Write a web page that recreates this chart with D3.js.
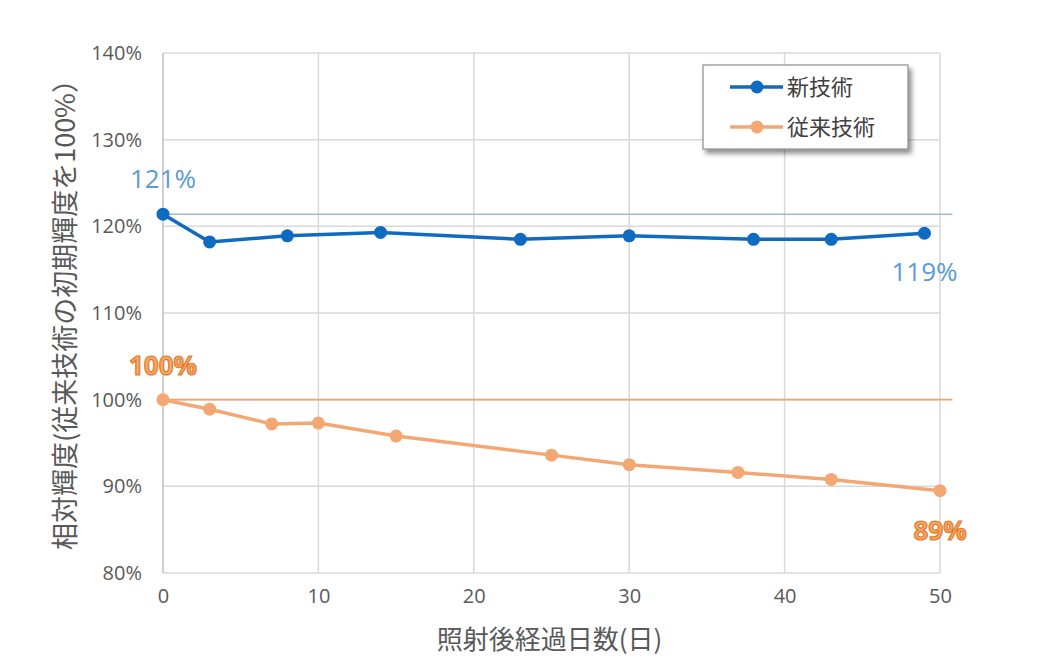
<!DOCTYPE html>
<html>
<head>
<meta charset="utf-8">
<script src="https://cdn.jsdelivr.net/npm/d3@7"></script>
<style>
  body { margin: 0; background: #fff; }
  text { font-family: "Open Sans", "Noto Sans CJK JP", sans-serif; }
  .jp { font-family: "Noto Sans CJK JP", sans-serif; }
</style>
</head>
<body>
<div id="app"></div>
<script>
const width = 1057,
    height = 659;

// days after irradiation
const newDays = [0, 3, 8, 14, 23, 30, 38, 43, 49];
const newValues = [121.4, 118.2, 118.9, 119.3, 118.5, 118.9, 118.5, 118.5, 119.2];
const oldDays = [0, 3, 7, 10, 15, 25, 30, 37, 43, 50];
const oldValues = [100.0, 98.9, 97.2, 97.3, 95.8, 93.6, 92.5, 91.6, 90.8, 89.5];

const seriesNames = ["新技術", "従来技術"];
const refValues = [121.4, 100];
const refEnd = 50.8;
const xTicks = [0, 10, 20, 30, 40, 50];
const yTicks = [80, 90, 100, 110, 120, 130, 140];
const xTitle = "照射後経過日数(日)";
const yTitle = "相対輝度(従来技術の初期輝度を100%）";

const blue = "#0f6bbf",
    orange = "#f3a874";

const x = d3.scaleLinear().domain([0, 50]).range([163, 940]);
const y = d3.scaleLinear().domain([80, 140]).range([573, 53]);

const svg = d3.select("#app")
    .append("svg")
    .attr("width", width)
    .attr("height", height);

const defs = svg.append("defs");
defs.append("filter").attr("id", "shadow")
    .attr("x", "-10%").attr("y", "-10%").attr("width", "130%").attr("height", "140%")
    .append("feDropShadow")
    .attr("dx", 3).attr("dy", 4).attr("stdDeviation", 2.5)
    .attr("flood-color", "#000").attr("flood-opacity", 0.45);

//Grid
svg.append("g").selectAll("line.h")
    .data(yTicks).enter()
    .append("line")
    .attr("x1", x(0)).attr("x2", x(50))
    .attr("y1", d => y(d)).attr("y2", d => y(d))
    .attr("stroke", "#d9d9d9").attr("stroke-width", 1.5);

svg.append("g").selectAll("line.v")
    .data(xTicks).enter()
    .append("line")
    .attr("x1", d => x(d)).attr("x2", d => x(d))
    .attr("y1", y(140)).attr("y2", y(80))
    .attr("stroke", d => d === 0 ? "#bfbfbf" : "#d9d9d9").attr("stroke-width", 1.5);

//Y-Axis
const yAxis = svg.append("g")
    .attr("transform", "translate(" + (x(0) - 18) + ",0)")
    .call(d3.axisLeft(y).tickValues(yTicks).tickFormat(d => d + "%").tickSize(0));
yAxis.select(".domain").remove();
yAxis.selectAll("text")
    .attr("font-size", 20).attr("fill", "#595959")
    .attr("font-family", "'Open Sans', sans-serif");

//X-Axis
const xAxis = svg.append("g")
    .attr("transform", "translate(0," + (y(80) + 13) + ")")
    .call(d3.axisBottom(x).tickValues(xTicks).tickSize(0));
xAxis.select(".domain").remove();
xAxis.selectAll("text")
    .attr("font-size", 20).attr("fill", "#595959")
    .attr("font-family", "'Open Sans', sans-serif");

//Titles
svg.append("text")
    .attr("class", "jp")
    .attr("x", (x(0) + x(50)) / 2 - 2).attr("y", 649)
    .attr("text-anchor", "middle")
    .attr("font-size", 26).attr("fill", "#595959")
    .text(xTitle);

svg.append("text")
    .attr("class", "jp")
    .attr("transform", "translate(75,308) rotate(-90)")
    .attr("text-anchor", "middle")
    .attr("font-size", 27).attr("fill", "#595959")
    .text(yTitle);

//Reference lines
svg.append("g").selectAll("line.ref")
    .data(refValues).enter()
    .append("line")
    .attr("x1", x(0)).attr("x2", x(refEnd))
    .attr("y1", d => y(d)).attr("y2", d => y(d))
    .attr("stroke", (d, i) => i === 0 ? "#9dbbd8" : "#f0a46c")
    .attr("stroke-width", 1.6);

//Series
const series = [
    {days: newDays, values: newValues, color: blue},
    {days: oldDays, values: oldValues, color: orange}
];

const line = d3.line().x(d => x(d[0])).y(d => y(d[1]));

series.forEach(s => {
    const pts = s.days.map((d, i) => [d, s.values[i]]);
    svg.append("path")
        .datum(pts)
        .attr("d", line)
        .attr("fill", "none")
        .attr("stroke", s.color)
        .attr("stroke-width", 3.5)
        .attr("stroke-linejoin", "round");
    svg.append("g").selectAll("circle")
        .data(pts).enter()
        .append("circle")
        .attr("r", 6.5)
        .attr("cx", d => x(d[0]))
        .attr("cy", d => y(d[1]))
        .attr("fill", s.color);
});

//Data labels
const labelBlue = "#5b9bd5";
svg.append("text")
    .attr("x", x(newDays[0])).attr("y", y(newValues[0]) - 26)
    .attr("text-anchor", "middle").attr("font-size", 26)
    .attr("fill", labelBlue)
    .text(Math.round(newValues[0]) + "%");
svg.append("text")
    .attr("x", x(newDays[newDays.length - 1])).attr("y", y(newValues[newValues.length - 1]) + 48)
    .attr("text-anchor", "middle").attr("font-size", 26)
    .attr("fill", labelBlue)
    .text(Math.round(newValues[newValues.length - 1]) + "%");

svg.append("text")
    .attr("x", x(oldDays[0])).attr("y", y(oldValues[0]) - 25)
    .attr("text-anchor", "middle").attr("font-size", 26).attr("font-weight", "bold")
    .attr("fill", "#f6a766").attr("stroke", "#e27a2c").attr("stroke-width", 1.2)
    .text(Math.round(oldValues[0]) + "%");
svg.append("text")
    .attr("x", x(oldDays[oldDays.length - 1])).attr("y", y(oldValues[oldValues.length - 1]) + 49)
    .attr("text-anchor", "middle").attr("font-size", 26).attr("font-weight", "bold")
    .attr("fill", "#f6a766").attr("stroke", "#e27a2c").attr("stroke-width", 1.2)
    .text(Math.floor(oldValues[oldValues.length - 1]) + "%");

//Legend
const legend = svg.append("g");
legend.append("rect")
    .attr("x", 703).attr("y", 65).attr("width", 205).attr("height", 84)
    .attr("fill", "#fff").attr("stroke", "#8c8c8c").attr("stroke-width", 1.2)
    .attr("filter", "url(#shadow)");

series.forEach((s, i) => {
    const ly = 87 + i * 40;
    legend.append("line")
        .attr("x1", 730).attr("x2", 783).attr("y1", ly).attr("y2", ly)
        .attr("stroke", s.color).attr("stroke-width", 3.5);
    legend.append("circle")
        .attr("cx", 757).attr("cy", ly).attr("r", 6.5).attr("fill", s.color);
    legend.append("text")
        .attr("class", "jp")
        .attr("x", 787).attr("y", ly + 8)
        .attr("font-size", 22).attr("fill", "#404040")
        .text(seriesNames[i]);
});
</script>
</body>
</html>
